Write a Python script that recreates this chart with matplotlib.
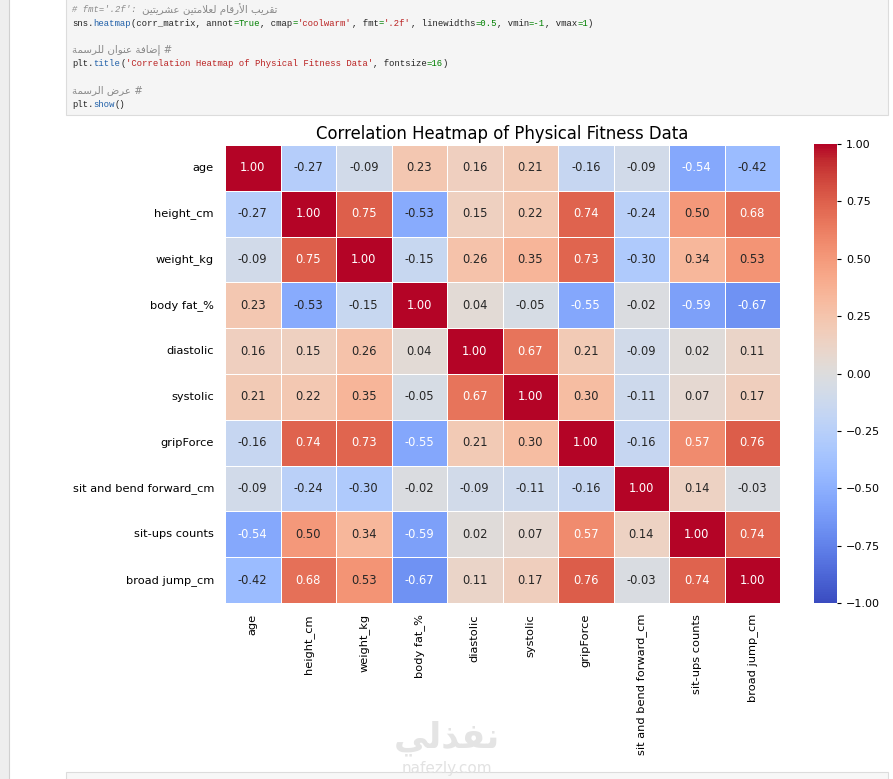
import numpy as np
import matplotlib
matplotlib.use("Agg")
import matplotlib.pyplot as plt
from matplotlib.patches import Rectangle
import seaborn as sns

# DATA
labels = ["age", "height_cm", "weight_kg", "body fat_%", "diastolic", "systolic",
          "gripForce", "sit and bend forward_cm", "sit-ups counts", "broad jump_cm"]
corr_rows = [
    [1.00, -0.27, -0.09, 0.23, 0.16, 0.21, -0.16, -0.09, -0.54, -0.42],
    [-0.27, 1.00, 0.75, -0.53, 0.15, 0.22, 0.74, -0.24, 0.50, 0.68],
    [-0.09, 0.75, 1.00, -0.15, 0.26, 0.35, 0.73, -0.30, 0.34, 0.53],
    [0.23, -0.53, -0.15, 1.00, 0.04, -0.05, -0.55, -0.02, -0.59, -0.67],
    [0.16, 0.15, 0.26, 0.04, 1.00, 0.67, 0.21, -0.09, 0.02, 0.11],
    [0.21, 0.22, 0.35, -0.05, 0.67, 1.00, 0.30, -0.11, 0.07, 0.17],
    [-0.16, 0.74, 0.73, -0.55, 0.21, 0.30, 1.00, -0.16, 0.57, 0.76],
    [-0.09, -0.24, -0.30, -0.02, -0.09, -0.11, -0.16, 1.00, 0.14, -0.03],
    [-0.54, 0.50, 0.34, -0.59, 0.02, 0.07, 0.57, 0.14, 1.00, 0.74],
    [-0.42, 0.68, 0.53, -0.67, 0.11, 0.17, 0.76, -0.03, 0.74, 1.00],
]
cbar_ticks = [-1.00, -0.75, -0.50, -0.25, 0.00, 0.25, 0.50, 0.75, 1.00]
title = "Correlation Heatmap of Physical Fitness Data"

# notebook code cell above the plot: (text, colour) pieces per line
GREY, BLUE, RED, GREEN, BLACK = "#8a8a8a", "#1f5fa8", "#ba2121", "#008000", "#222222"
code_lines = [
    (9, [("# fmt='.2f': ", GREY)], "تقريب الأرقام لعلامتين عشريتين"),
    (23, [("sns.", BLACK), ("heatmap", BLUE), ("(corr_matrix, annot", BLACK), ("=", GREEN),
          ("True", GREEN), (", cmap", BLACK), ("=", GREEN), ("'coolwarm'", RED), (", fmt", BLACK),
          ("=", GREEN), ("'.2f'", RED), (", linewidths", BLACK), ("=0.5", GREEN),
          (", vmin", BLACK), ("=-1", GREEN), (", vmax", BLACK), ("=1", GREEN), (")", BLACK)], None),
    (50, [], "إضافة عنوان للرسمة"),
    (63, [("plt.", BLACK), ("title", BLUE), ("(", BLACK),
          ("'Correlation Heatmap of Physical Fitness Data'", RED), (", fontsize", BLACK),
          ("=16", GREEN), (")", BLACK)], None),
    (90, [], "عرض الرسمة"),
    (104, [("plt.", BLACK), ("show", BLUE), ("()", BLACK)], None),
]
watermark_ar = "نفذلي"
watermark_en = "nafezly.com"

# tiny arabic shaper: matplotlib has no RTL / joining support
BASE = {'ا': 0xFE8D, 'أ': 0xFE83, 'إ': 0xFE87, 'ب': 0xFE8F, 'ة': 0xFE93, 'ت': 0xFE95,
        'ذ': 0xFEAB, 'ر': 0xFEAD, 'س': 0xFEB1, 'ش': 0xFEB5, 'ض': 0xFEBD, 'ع': 0xFEC9,
        'ف': 0xFED1, 'ق': 0xFED5, 'ل': 0xFEDD, 'م': 0xFEE1, 'ن': 0xFEE5, 'و': 0xFEED,
        'ي': 0xFEF1}
RIGHT_ONLY = set('اأإةذرو')
LAMALEF = {'ا': 0xFEFB, 'أ': 0xFEF7, 'إ': 0xFEF9}


def shape(text):
    toks = []
    i = 0
    while i < len(text):
        if text[i] == 'ل' and i + 1 < len(text) and text[i + 1] in LAMALEF:
            toks.append(('LA', text[i + 1]))
            i += 2
        else:
            toks.append(text[i])
            i += 1

    def joins_next(t):
        return isinstance(t, str) and t in BASE and t not in RIGHT_ONLY

    def arabic(t):
        return isinstance(t, tuple) or t in BASE

    out = []
    for k, t in enumerate(toks):
        prev_j = k > 0 and joins_next(toks[k - 1])
        nxt = toks[k + 1] if k + 1 < len(toks) else None
        if isinstance(t, tuple):
            out.append(chr(LAMALEF[t[1]] + (1 if prev_j else 0)))
            continue
        if t not in BASE:
            out.append(t)
            continue
        next_j = joins_next(t) and nxt is not None and arabic(nxt)
        if prev_j and next_j:
            off = 3
        elif prev_j:
            off = 1
        elif next_j:
            off = 2
        else:
            off = 0
        out.append(chr(BASE[t] + off))
    return ''.join(reversed(out))


W, H = 893, 779
fig = plt.figure(figsize=(W / 100, H / 100), dpi=100)
renderer = fig.canvas.get_renderer()

# page background drawn in pixel coordinates
bg = fig.add_axes([0, 0, 1, 1], zorder=0)
bg.set_xlim(0, W)
bg.set_ylim(H, 0)
bg.axis("off")
bg.add_patch(Rectangle((-2, -2), 11, H + 4, facecolor="#eeeeee", edgecolor="#d0d0d0", lw=0.8))
bg.add_patch(Rectangle((66, -5), 822, 120, facecolor="#f5f5f5", edgecolor="#dcdcdc", lw=0.8))
bg.add_patch(Rectangle((66, 772), 822, 20, facecolor="#f7f7f7", edgecolor="#dcdcdc", lw=0.8))


def put(x, y, s, **kw):
    # draw a piece of text and return the x (px) where it ends
    t = bg.text(x, y, s, va="center", ha="left", **kw)
    ext = t.get_window_extent(renderer)
    return x + ext.width


code_fs = 6.4
for y, pieces, arabic_txt in code_lines:
    x = 72
    for s, c in pieces:
        x = put(x, y, s, fontfamily="Liberation Mono", fontsize=code_fs, color=c,
                style="italic" if c == GREY else "normal")
    if arabic_txt is not None:
        s = shape(arabic_txt) if pieces else shape(arabic_txt) + " #"
        put(x, y, s, fontfamily="DejaVu Sans", fontsize=7.4, color=GREY)

bg.text(447, 738, shape(watermark_ar), fontfamily="DejaVu Sans", fontweight="bold",
        fontsize=25, color="#e4e4e4", ha="center", va="center")
bg.text(447, 768, watermark_en, fontfamily="DejaVu Sans", fontsize=11,
        color="#e2e2e2", ha="center", va="center")

# HEATMAP
corr = np.array(corr_rows)
ax = fig.add_axes([225 / W, 1 - 603 / H, 555 / W, 458 / H], zorder=2)
cax = fig.add_axes([814 / W, 1 - 603 / H, 23 / W, 459 / H], zorder=2)
sns.heatmap(corr, annot=True, cmap="coolwarm", fmt=".2f", linewidths=0.5,
            vmin=-1, vmax=1, ax=ax, cbar_ax=cax, annot_kws={"fontsize": 8.3},
            xticklabels=labels, yticklabels=labels)
ax.set_title(title, fontsize=11.9, pad=4)
ax.tick_params(axis="both", labelsize=8.2, length=0, pad=8)
ax.set_yticklabels(labels, rotation=0)
ax.set_xticklabels(labels, rotation=90)
cax.set_yticks(cbar_ticks)
cax.tick_params(labelsize=8, length=3)

fig.savefig("out.png", dpi=100)
